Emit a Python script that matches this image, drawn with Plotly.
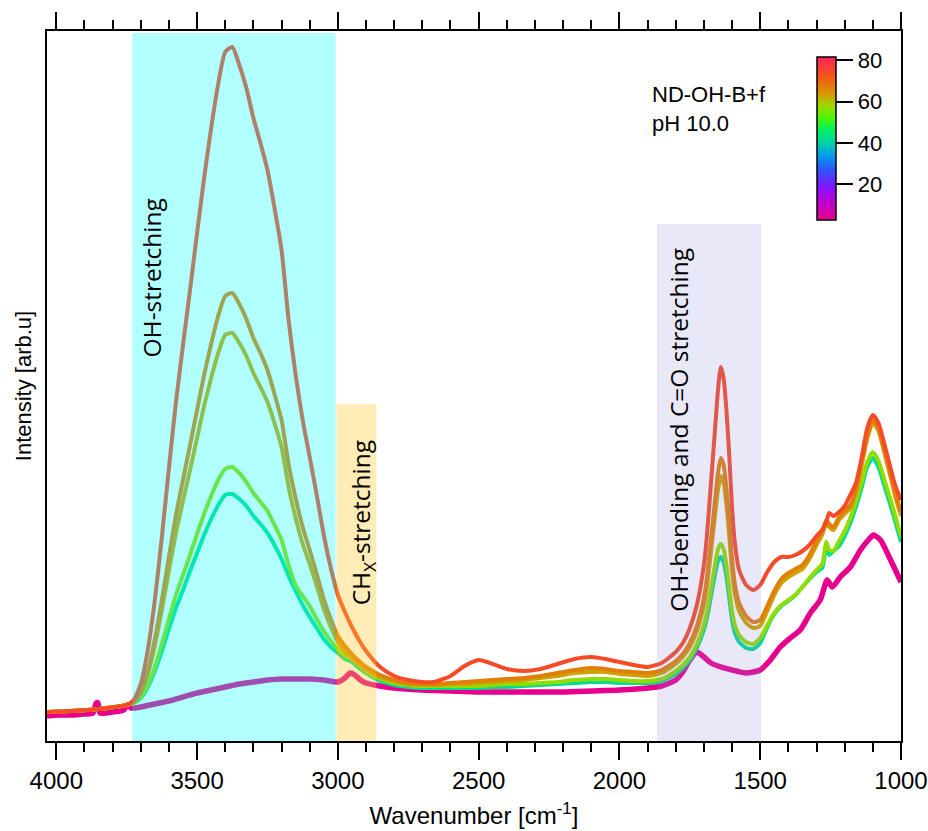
import plotly.graph_objects as go
from plotly.colors import sample_colorscale

# Wavenumber grid (cm^-1) shared by the five main spectra
wavenumber = [4033, 3950, 3850, 3750, 3725, 3700, 3675, 3650, 3625, 3600,
              3575, 3550, 3525, 3500, 3475, 3450, 3425, 3400, 3375, 3350,
              3325, 3300, 3275, 3250, 3225, 3200, 3175, 3150, 3125, 3100,
              3075, 3050, 3025, 3000, 2975, 2950, 2925, 2900, 2850, 2800,
              2750, 2700, 2660, 2600, 2550, 2500, 2450, 2400, 2340, 2280,
              2220, 2160, 2100, 2050, 2000, 1950, 1900, 1850, 1800, 1775,
              1750, 1725, 1700, 1690, 1680, 1670, 1660, 1650, 1640, 1630,
              1620, 1610, 1600, 1590, 1575, 1550, 1525, 1500, 1475, 1450,
              1425, 1400, 1375, 1350, 1325, 1300, 1280, 1265, 1255, 1240,
              1220, 1200, 1180, 1160, 1140, 1120, 1100, 1080, 1060, 1040,
              1020, 1000]

# Intensities (arb. u.) for each spectrum
spec_74 = [29, 30, 32, 36, 41, 57, 91, 141, 204, 273,
           339, 396, 451, 508, 563, 613, 657, 689, 694, 676,
           653, 623, 598, 571, 533, 491, 421, 366, 321, 284,
           246, 206, 173, 146, 129, 114, 101, 90, 74, 65,
           61, 59, 59, 65, 75, 81, 77, 72, 70, 72,
           77, 82, 84, 82, 79, 76, 74, 78, 89, 98,
           113, 136, 176, 203, 239, 276, 313, 351, 374, 363,
           331, 286, 233, 198, 171, 156, 151, 156, 169, 179,
           184, 184, 186, 190, 196, 205, 211, 219, 228, 225,
           229, 235, 246, 258, 283, 313, 326, 318, 298, 276,
           255, 241]
spec_67 = [29, 30, 32, 36, 39, 49, 70, 102, 141, 184,
           226, 261, 296, 331, 366, 397, 425, 445, 448, 437,
           422, 403, 388, 371, 347, 321, 277, 243, 214, 191,
           167, 142, 122, 105, 95, 87, 80, 74, 66, 61,
           58, 57, 57, 58, 59, 60, 61, 62, 63, 65,
           68, 71, 73, 72, 70, 69, 68, 71, 80, 87,
           98, 115, 143, 162, 188, 215, 242, 268, 283, 276,
           252, 220, 182, 157, 138, 125, 119, 121, 135, 150,
           162, 168, 172, 176, 186, 200, 210, 221, 217, 214,
           224, 230, 236, 252, 278, 305, 321, 313, 292, 271,
           248, 229]
spec_63 = [29, 30, 32, 36, 39, 48, 67, 95, 131, 170,
           208, 240, 271, 303, 335, 363, 388, 406, 408, 398,
           385, 368, 354, 339, 318, 294, 254, 223, 197, 177,
           155, 132, 114, 99, 90, 83, 77, 72, 64, 60,
           57, 56, 56, 57, 57, 58, 59, 60, 61, 63,
           65, 68, 69, 69, 67, 66, 65, 68, 77, 84,
           94, 110, 136, 153, 176, 201, 227, 251, 265, 258,
           236, 205, 170, 147, 130, 118, 113, 115, 130, 146,
           158, 164, 168, 172, 182, 196, 206, 218, 214, 211,
           221, 227, 233, 249, 275, 302, 318, 310, 289, 267,
           244, 225]
spec_57 = [29, 30, 32, 36, 38, 44, 56, 74, 97, 122,
           146, 166, 186, 207, 227, 245, 261, 272, 274, 268,
           259, 248, 239, 230, 216, 201, 176, 156, 145, 135,
           122, 110, 100, 92, 86, 82, 76, 70, 62, 58,
           56, 55, 55, 55, 55, 55, 56, 57, 57, 58,
           59, 61, 62, 62, 61, 60, 60, 62, 70, 76,
           84, 97, 116, 128, 143, 160, 177, 192, 197, 192,
           176, 153, 130, 116, 106, 99, 97, 103, 116, 128,
           136, 141, 146, 154, 163, 171, 177, 199, 191, 190,
           200, 210, 223, 240, 258, 279, 289, 280, 262, 244,
           225, 204]
spec_42 = [29, 30, 32, 36, 38, 43, 54, 70, 90, 112,
           133, 151, 170, 188, 206, 222, 236, 246, 247, 242,
           235, 225, 217, 208, 196, 182, 165, 150, 136, 124,
           113, 102, 94, 88, 82, 79, 73, 68, 60, 56,
           54, 53, 53, 53, 53, 53, 54, 54, 55, 56,
           57, 58, 59, 59, 58, 58, 58, 60, 67, 73,
           81, 93, 111, 122, 136, 152, 167, 180, 184, 179,
           164, 143, 121, 108, 99, 93, 92, 98, 114, 127,
           135, 140, 146, 154, 162, 169, 173, 194, 186, 190,
           195, 205, 218, 234, 253, 274, 283, 274, 256, 238,
           219, 199]

# Early spectrum on its own grid
wavenumber_early = [4033, 3990, 3950, 3900, 3870, 3858, 3852, 3845, 3800, 3760,
                    3748, 3742, 3735, 3700, 3650, 3600, 3550, 3500, 3450, 3400,
                    3350, 3300, 3250, 3200, 3150, 3100, 3050, 3000, 2975, 2956,
                    2940, 2920, 2900, 2850, 2800, 2700, 2600, 2500, 2400, 2300,
                    2200, 2100, 2000, 1900, 1850, 1800, 1775, 1750, 1725, 1700,
                    1675, 1650, 1600, 1550, 1500, 1464, 1429, 1393, 1358, 1322,
                    1287, 1262, 1244, 1216, 1180, 1144, 1116, 1098, 1073, 1037,
                    1000]
spec_3 = [25, 26, 26, 27, 28, 38, 38, 28, 29, 31,
          36, 36, 33, 34, 37, 40, 44, 48, 51, 54,
          57, 59, 61, 62, 62, 62, 61, 59, 63, 68,
          66, 61, 58, 55, 53, 51, 50, 49, 49, 49,
          49, 50, 51, 53, 55, 61, 69, 81, 89, 84,
          78, 75, 71, 68, 71, 81, 94, 103, 111, 128,
          141, 161, 154, 164, 174, 191, 201, 206, 201, 181,
          159]

# Colour value of each spectrum (drawn bottom to top)
spectra = [
    (3, wavenumber_early, spec_3, 5.5),
    (42, wavenumber, spec_42, 4),
    (57, wavenumber, spec_57, 4),
    (63, wavenumber, spec_63, 4),
    (67, wavenumber, spec_67, 4),
    (74, wavenumber, spec_74, 4),
]

cmin, cmax = 2.8, 81.6
colorbar_ticks = [20, 40, 60, 80]
rainbow = [
    [0.00, "rgb(232,0,140)"],
    [0.10, "rgb(195,0,200)"],
    [0.20, "rgb(130,20,255)"],
    [0.30, "rgb(50,80,255)"],
    [0.40, "rgb(0,160,235)"],
    [0.48, "rgb(0,215,160)"],
    [0.55, "rgb(0,240,100)"],
    [0.63, "rgb(80,245,0)"],
    [0.70, "rgb(160,215,0)"],
    [0.78, "rgb(215,150,0)"],
    [0.88, "rgb(245,85,25)"],
    [1.00, "rgb(255,35,95)"],
]

# Band regions: (high wavenumber, low wavenumber, top intensity, fill)
bands = [
    (3730, 3008, 708, "rgba(0,255,255,0.3)"),
    (3005, 2863, 337, "rgba(255,200,50,0.35)"),
    (1867, 1497, 517, "rgba(140,140,220,0.2)"),
]

band_labels = [
    (3662, 463, "OH-stretching"),
    (2913, 218, "CH<sub>X</sub>-stretching"),
    (1793, 311, "OH-bending and C=O stretching"),
]

fig = go.Figure()

for value, xs, ys, width in spectra:
    t = (value - cmin) / (cmax - cmin)
    color = sample_colorscale(rainbow, [t], colortype="rgb")[0]
    fig.add_trace(go.Scatter(
        x=xs, y=ys, mode="lines",
        line=dict(color=color, width=width, shape="spline", smoothing=0.6),
        showlegend=False, hoverinfo="skip",
    ))

# Colour scale legend
fig.add_trace(go.Scatter(
    x=[None], y=[None], mode="markers", showlegend=False,
    marker=dict(
        color=[cmin], colorscale=rainbow, cmin=cmin, cmax=cmax, showscale=True,
        colorbar=dict(
            x=0.9016, xanchor="left", xref="paper",
            y=0.8485, yanchor="middle", yref="paper",
            lenmode="pixels", len=163, thickness=19,
            xpad=0, ypad=0,
            outlinecolor="black", outlinewidth=1.5,
            tickvals=colorbar_ticks, ticks="outside", ticklen=17,
            tickwidth=1.5, tickcolor="black",
            tickfont=dict(family="Liberation Sans, Arial", size=22, color="black"),
        ),
    ),
))

for x0, x1, top, fill in bands:
    fig.add_shape(type="rect", xref="x", yref="y", x0=x0, x1=x1, y0=0, y1=top,
                  fillcolor=fill, line=dict(width=0), layer="above")

for x, y, text in band_labels:
    fig.add_annotation(x=x, y=y, xref="x", yref="y", text=text, textangle=-90,
                       showarrow=False,
                       font=dict(family="Open Sans", size=24.5, color="black"))

fig.add_annotation(x=0.7056, y=0.9306, xref="paper", yref="paper",
                   xanchor="left", yanchor="top", align="left", showarrow=False,
                   text="ND-OH-B+f<br>pH 10.0",
                   font=dict(family="Liberation Sans, Arial", size=22, color="black"))

fig.update_layout(
    width=928, height=831,
    margin=dict(l=47, r=27, t=31, b=90, autoexpand=False),
    paper_bgcolor="white", plot_bgcolor="white",
    font=dict(family="Liberation Sans, Arial", color="black"),
    xaxis=dict(
        range=[4033, 1000], showgrid=False, zeroline=False,
        showline=True, linecolor="black", linewidth=1.5, mirror="allticks",
        ticks="outside", ticklen=17, tickwidth=1.5, tickcolor="black",
        tickvals=[4000, 3500, 3000, 2500, 2000, 1500, 1000],
        minor=dict(dtick=100, tick0=1000, ticks="outside", ticklen=9,
                   tickwidth=1.5, tickcolor="black"),
        tickfont=dict(size=24, color="black"),
        title=dict(text="Wavenumber [cm<sup>-1</sup>]", font=dict(size=24),
                   standoff=15),
    ),
    yaxis=dict(
        range=[0, 710], showgrid=False, zeroline=False,
        showline=True, linecolor="black", linewidth=1.5, mirror=True,
        ticks="", showticklabels=False,
        title=dict(text="Intensity [arb.u]", font=dict(size=22), standoff=8),
    ),
)

fig.write_html("out.html")
